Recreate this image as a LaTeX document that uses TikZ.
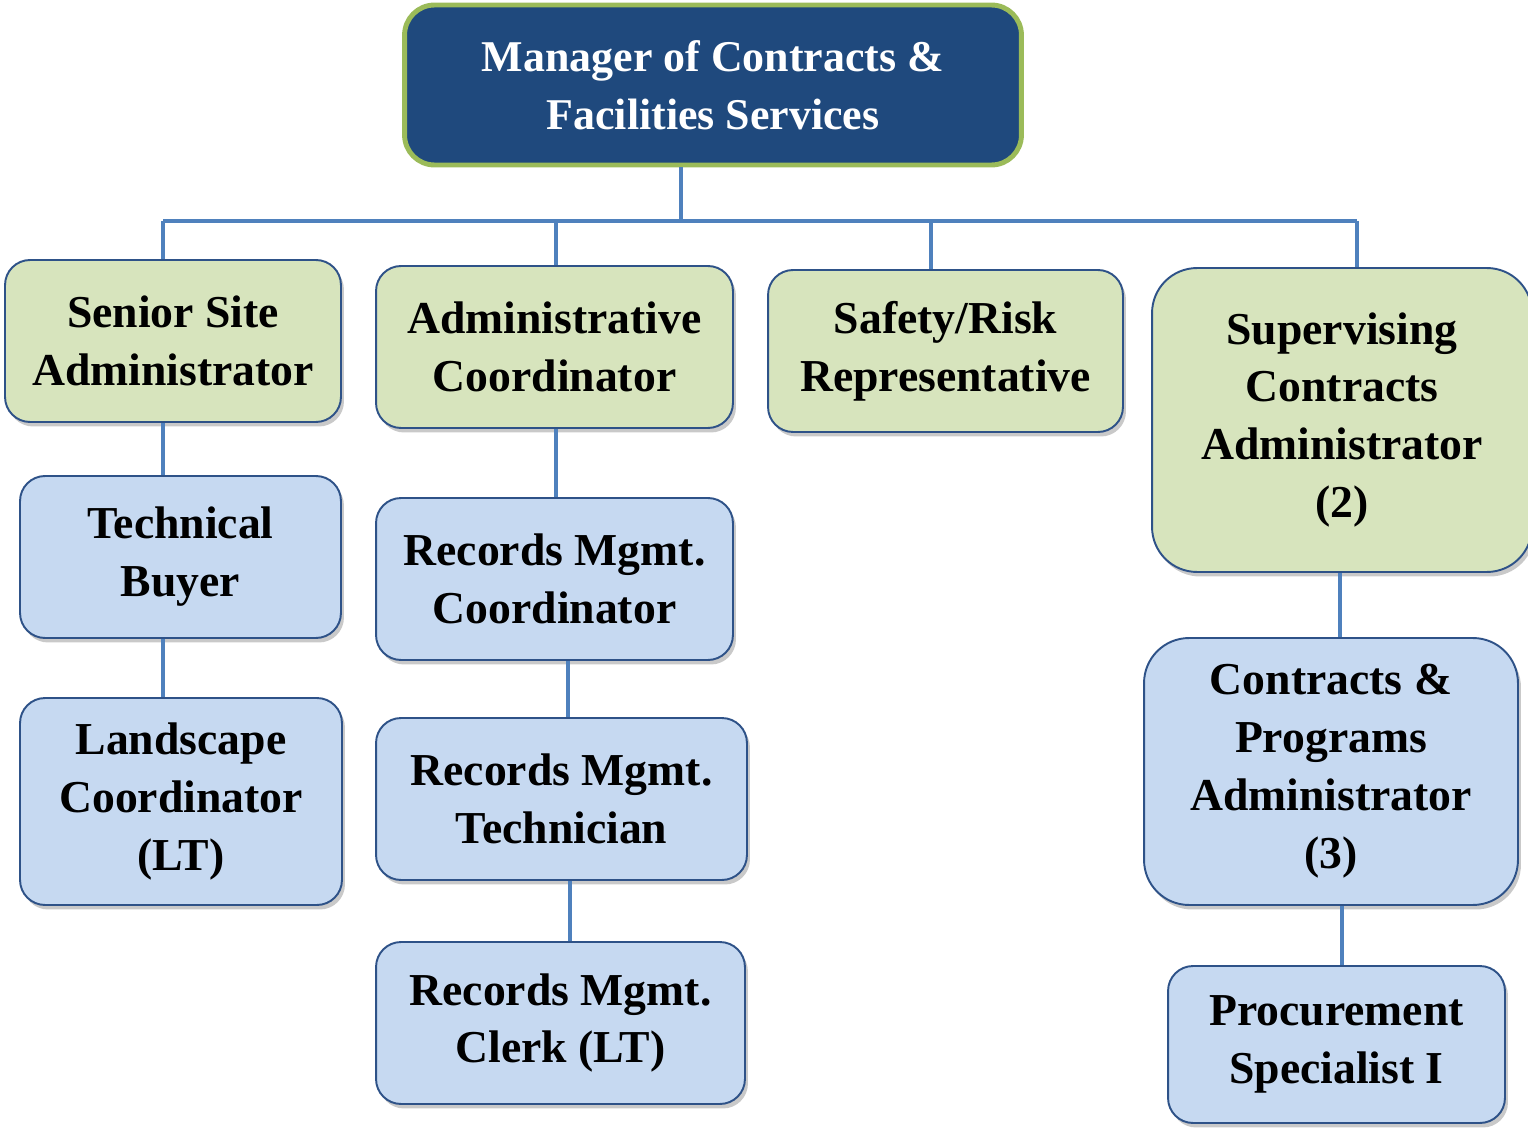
\documentclass[tikz,border=0pt]{standalone}
\usepackage{fontspec}
\setmainfont{Liberation Serif}
\usepackage{tikz}
\usetikzlibrary{positioning, shadows, calc}

\definecolor{topblue}{HTML}{1F497D}
\definecolor{topgreen}{HTML}{9BBB59}
\definecolor{linkblue}{HTML}{4F81BD}
\definecolor{edgeblue}{HTML}{2E5288}
\definecolor{boxgreen}{HTML}{D7E4BD}
\definecolor{boxblue}{HTML}{C6D9F1}

\begin{document}
\begin{tikzpicture}[
    x=0.02cm, y=-0.02cm,
    unit/.style={draw=edgeblue, line width=1.1pt, rounded corners=0.5cm, align=center,
        font=\fontsize{26}{33}\selectfont\bfseries, inner sep=2pt,
        drop shadow={shadow xshift=0.06cm, shadow yshift=-0.09cm, opacity=0.3, fill=black!70}},
    lead/.style={unit, fill=boxgreen},
    staff/.style={unit, fill=boxblue},
    link/.style={draw=linkblue, line width=2.8pt}
]
    \useasboundingbox (0,0) rectangle (1528,1128);

    % Lines
    \coordinate (bm) at (681,221);
    \coordinate (b1) at (163,221);
    \coordinate (b2) at (556,221);
    \coordinate (b3) at (931,221);
    \coordinate (b4) at (1357,221);
    \coordinate (r1) at (568,0);
    \coordinate (r2) at (570,0);
    \coordinate (s1) at (1340,0);
    \coordinate (s2) at (1342,0);

    % Manager
    \node[draw=topgreen, line width=2.8pt, fill=topblue, text=white, rounded corners=0.6cm,
          minimum width=12.34cm, minimum height=3.2cm, align=center,
          font=\fontsize{25}{33}\selectfont\bfseries] (manager) at (713,85)
          {Manager of Contracts \&\\Facilities Services};

    % Second row
    \node[lead, minimum width=6.72cm, minimum height=3.24cm] (senior) at (173,341)
          {Senior Site\\Administrator};
    \node[lead, minimum width=7.14cm, minimum height=3.24cm] (admin) at (554.5,347)
          {Administrative\\Coordinator};
    \node[lead, minimum width=7.1cm, minimum height=3.24cm] (safety) at (945.5,351)
          {Safety/Risk\\Representative};
    \node[lead, rounded corners=0.9cm, minimum width=7.6cm, minimum height=6.08cm] (supervising) at (1342,420)
          {Supervising\\Contracts\\Administrator\\(2)};

    % Left column
    \node[staff, minimum width=6.42cm, minimum height=3.24cm] (buyer) at (180.5,557)
          {Technical\\Buyer};
    \node[staff, minimum width=6.44cm, minimum height=4.14cm] (landscape) at (181,801.5)
          {Landscape\\Coordinator\\(LT)};

    % Records column
    \node[staff, minimum width=7.14cm, minimum height=3.24cm] (reccoord) at (554.5,579)
          {Records Mgmt.\\Coordinator};
    \node[staff, minimum width=7.42cm, minimum height=3.24cm] (rectech) at (561.5,799)
          {Records Mgmt.\\Technician};
    \node[staff, minimum width=7.38cm, minimum height=3.24cm] (recclerk) at (560.5,1023)
          {Records Mgmt.\\Clerk (LT)};

    % Contracts column
    \node[staff, rounded corners=0.9cm, minimum width=7.48cm, minimum height=5.34cm] (programs) at (1331,771.5)
          {Contracts \&\\Programs\\Administrator\\(3)};
    \node[staff, minimum width=6.74cm, minimum height=3.14cm] (procure) at (1336.5,1044.5)
          {Procurement\\Specialist I};

    % Connectors
    \draw[link] (manager.south -| bm) -- (bm);
    \draw[link] (b1) -- (b4);
    \draw[link] (b1) -- (senior.north -| b1);
    \draw[link] (b2) -- (admin.north -| b2);
    \draw[link] (b3) -- (safety.north -| b3);
    \draw[link] (b4) -- (supervising.north -| b4);
    \draw[link] (senior.south -| b1) -- (buyer.north -| b1);
    \draw[link] (buyer.south -| b1) -- (landscape.north -| b1);
    \draw[link] (admin.south -| b2) -- (reccoord.north -| b2);
    \draw[link] (reccoord.south -| r1) -- (rectech.north -| r1);
    \draw[link] (rectech.south -| r2) -- (recclerk.north -| r2);
    \draw[link] (supervising.south -| s1) -- (programs.north -| s1);
    \draw[link] (programs.south -| s2) -- (procure.north -| s2);

\end{tikzpicture}
\end{document}
